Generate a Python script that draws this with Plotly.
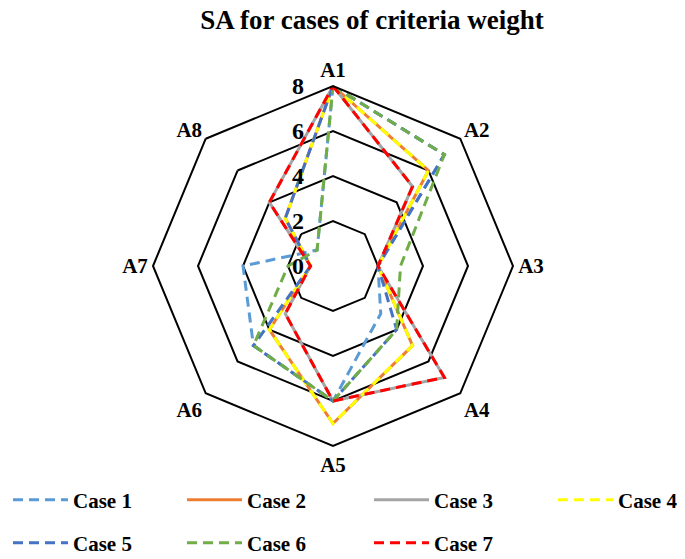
import plotly.graph_objects as go

categories = ["A1", "A2", "A3", "A4", "A5", "A6", "A7", "A8"]
case_names = ["Case 1", "Case 2", "Case 3", "Case 4", "Case 5", "Case 6", "Case 7"]
case1 = [8, 7, 2, 3, 6, 5, 4, 1]
case2 = [8, 6, 2, 5, 7, 4, 1, 3]
case3 = [8, 5, 2, 7, 6, 3, 1, 4]
case4 = [8, 6, 2, 5, 7, 4, 1, 3]
case5 = [8, 7, 2, 4, 6, 5, 1, 3]
case6 = [8, 7, 3, 4, 6, 5, 2, 1]
case7 = [8, 5, 2, 7, 6, 3, 1, 4]
radial_ticks = [0, 2, 4, 6, 8]

series = [case1, case2, case3, case4, case5, case6, case7]
colors = ["#5B9BD5", "#ED7D31", "#A5A5A5", "#FFFF00", "#4472C4", "#70AD47", "#FF0000"]
dashes = ["10px,6px", "solid", "solid", "10px,6px", "10px,6px", "10px,6px", "10px,6px"]

FONT = "Liberation Serif"
W, H = 685, 559
OFF = 8  # page body margin offset of the figure div
cx, cy, R = 333 - OFF, 266 - OFF, 180

# legend slot positions (pixels, page coords): column left edges and row centers
col_x = [0, 182, 369, 553]
row_y = [500, 543]

fig = go.Figure()
legend_layout = {}
for i, (name, vals) in enumerate(zip(case_names, series)):
    key = "legend" if i == 0 else f"legend{i + 1}"
    fig.add_trace(go.Scatterpolar(
        r=vals + [vals[0]],
        theta=categories + [categories[0]],
        mode="lines",
        name=name,
        showlegend=True,
        line=dict(color=colors[i], width=3, dash=dashes[i]),
        legend=key,
    ))
    row, col = divmod(i, 4)
    legend_layout[key] = dict(
        x=max(col_x[col] - OFF, 0) / W, xanchor="left",
        y=1 - (row_y[row] - OFF) / H, yanchor="middle",
        font=dict(family=FONT, size=21, color="black", weight="bold"),
        itemwidth=55,
        bgcolor="rgba(0,0,0,0)",
        borderwidth=0,
    )

fig.update_layout(
    width=W, height=H,
    showlegend=True,
    margin=dict(l=0, r=0, t=0, b=0, autoexpand=False),
    paper_bgcolor="white",
    title=dict(
        text="<b>SA for cases of criteria weight</b>",
        x=(372 - OFF) / W, xanchor="center",
        y=1 - 2 / H, yanchor="top",
        font=dict(family=FONT, size=27, color="black"),
    ),
    polar=dict(
        domain=dict(x=[(cx - R) / W, (cx + R) / W], y=[1 - (cy + R) / H, 1 - (cy - R) / H]),
        bgcolor="white",
        gridshape="linear",
        angularaxis=dict(
            categoryorder="array", categoryarray=categories,
            rotation=90, direction="clockwise",
            showgrid=False, showline=True, linecolor="black", linewidth=2,
            ticks="", tickfont=dict(family=FONT, size=21, color="black", weight="bold"),
        ),
        radialaxis=dict(
            range=[0, 8], tickvals=radial_ticks, ticktext=[str(v) for v in radial_ticks],
            angle=90, showline=False, gridcolor="black", gridwidth=2,
            ticks="outside", ticklen=20, tickcolor="rgba(0,0,0,0)",
            side="counterclockwise", tickangle=90,
            tickfont=dict(family=FONT, size=24, color="black", weight="bold"),
        ),
    ),
    **legend_layout,
)

fig.write_html("out.html")
